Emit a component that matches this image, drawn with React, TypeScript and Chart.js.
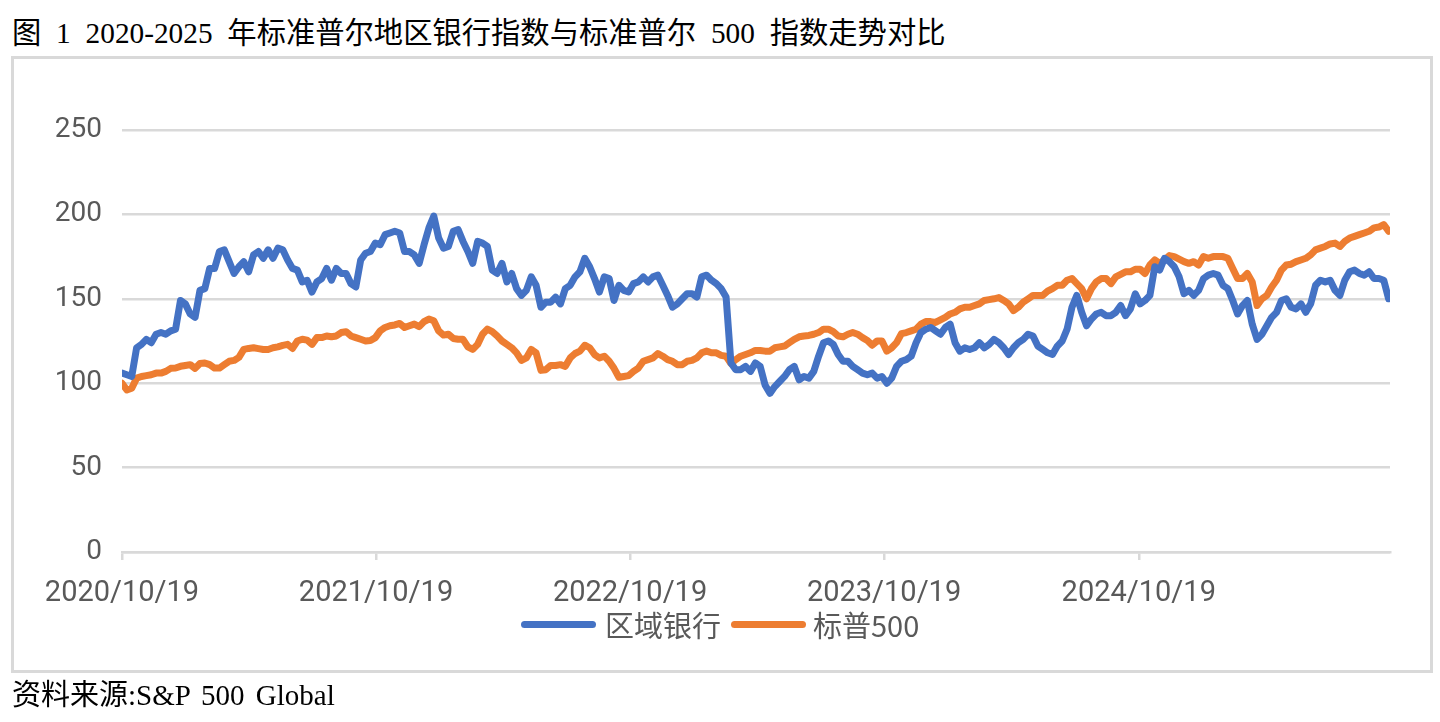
import React, { useEffect, useRef } from 'react';
import { Chart, registerables } from 'chart.js';

Chart.register(...registerables);

const titleText = '图 1 2020-2025 年标准普尔地区银行指数与标准普尔 500 指数走势对比';
const sourceText = '资料来源:S&P 500 Global';
const seriesNames = ['区域银行', '标普500'];
const seriesColors = ['#4472C4', '#ED7D31'];

// x positions are days since 2020/10/19 (weekly observations)
const xTickDays = [0, 365, 730, 1095, 1461];
const xTickLabels = ['2020/10/19', '2021/10/19', '2022/10/19', '2023/10/19', '2024/10/19'];
const yMin = 0;
const yMax = 250;
const yStep = 50;
const xMaxDay = 1822;
const stepDays = 7;

const regionalBank = [
  106, 105, 104, 121, 123, 126, 124, 129, 130, 129,
  131, 132, 149, 147, 141, 139, 155, 156, 168, 168,
  178, 179, 172, 165, 169, 172, 166, 176, 178, 174,
  179, 174, 180, 179, 173, 168, 167, 160, 161, 154,
  160, 162, 168, 161, 168, 165, 165, 159, 157, 173,
  177, 178, 183, 182, 188, 189, 190, 189, 178, 178,
  176, 171, 182, 192, 199, 186, 180, 181, 190, 191,
  184, 178, 171, 184, 183, 181, 167, 165, 171, 160,
  165, 156, 152, 155, 163, 158, 145, 148, 148, 151,
  147, 156, 158, 163, 166, 174, 169, 162, 154, 163,
  162, 149, 158, 155, 154, 159, 160, 163, 160, 163,
  164, 158, 152, 145, 147, 150, 153, 153, 151, 163,
  164, 161, 159, 156, 151, 112, 108, 108, 110, 107,
  112, 110, 99, 94, 98, 101, 104, 108, 110, 102,
  104, 103, 107, 116, 124, 125, 123, 117, 113, 113,
  110, 108, 106, 105, 106, 103, 104, 100, 103, 110,
  113, 114, 116, 124, 130, 132, 133, 131, 129, 133,
  135, 124, 119, 121, 120, 121, 124, 121, 123, 126,
  124, 121, 117, 121, 124, 126, 129, 128, 122, 120,
  118, 117, 122, 125, 132, 145, 152, 142, 134, 138,
  141, 142, 140, 140, 142, 146, 140, 144, 153, 147,
  149, 152, 169, 167, 174, 172, 169, 163, 153, 155,
  152, 155, 162, 164, 165, 164, 158, 156, 149, 141,
  146, 149, 135, 126, 129, 134, 139, 142, 149, 150,
  145, 144, 147, 142, 147, 158, 161, 160, 161, 155,
  152, 161, 166, 167, 165, 164, 166, 162, 162, 161, 150,
];

const sp500 = [
  100, 96, 97, 103, 104, 104.5, 105, 106, 106, 107,
  108.8, 109, 110, 110.5, 111, 108.8, 111.7, 112, 111, 109,
  109, 111, 113, 113.5, 115.3, 120, 120.6, 121, 120.5, 120,
  120, 121, 121.5, 122.4, 123, 120.6, 125, 126, 125.5, 123,
  127, 127, 128, 127.5, 128, 130, 130.5, 128, 127, 126,
  125, 125.3, 127, 131, 133, 134, 134.5, 135.4, 133, 134,
  135, 133.5, 136.5, 138, 137, 131, 128.5, 129, 126.5, 126,
  126, 121.5, 120, 123, 129, 132, 130.5, 128, 125, 123,
  121, 118, 113.5, 115, 120, 118, 107.6, 108, 110.5, 110.5,
  111, 110, 115, 117.6, 119, 122.5, 121, 117, 115, 116,
  113, 108.8, 103.5, 104, 104.5, 107, 109, 113, 114, 115,
  117.6, 116, 114, 113, 111, 111, 113, 113.5, 115, 118,
  119, 118, 118, 116.5, 116, 111.7, 114, 116, 117, 118,
  119.4, 119.4, 119, 119, 121, 121.5, 122, 124, 126, 127.5,
  128, 128.3, 129, 130, 132, 132, 130.5, 128, 127.5, 129,
  130, 129, 127, 125.3, 122.5, 125, 125, 119, 121, 124,
  129.4, 130, 131, 132, 135, 136.5, 136.5, 136, 137.5, 139,
  141, 142, 144, 145, 145, 146, 147, 149, 149.5, 150,
  150.7, 149, 147, 143, 145, 148, 150, 152, 152, 152,
  154.5, 156, 158, 158, 161, 162, 159, 156, 150, 156,
  160, 162, 162, 159, 163, 164.5, 166, 166, 167.5, 167.5,
  165, 170, 173, 171, 173, 175.6, 175, 173.5, 172, 171,
  172, 170, 175, 174, 175, 175, 175, 174, 168, 162,
  162, 165, 160, 146, 150, 152, 157, 161, 167, 170,
  170.5, 172, 173, 174, 176, 179, 180, 181, 182.5, 183,
  181, 184, 186, 187, 188, 189, 190, 192, 192.5, 194, 190,
];

const tickFont = '"Roboto", "Noto Sans CJK SC", sans-serif';
const cjkFont = '"Noto Sans CJK SC", sans-serif';
const serifFont = '"Liberation Serif", "DejaVu Serif", "Noto Sans CJK SC", serif';
const gridColor = '#d9d9d9';
const textGrey = '#595959';

function toPoints(values: number[]) {
  return values.map((v, i) => ({ x: i * stepDays, y: v }));
}

export default function App() {
  const canvasRef = useRef<HTMLCanvasElement | null>(null);

  useEffect(() => {
    if (!canvasRef.current) return;
    const chart = new Chart(canvasRef.current, {
      type: 'line',
      data: {
        datasets: [
          {
            label: seriesNames[0],
            data: toPoints(regionalBank),
            borderColor: seriesColors[0],
            backgroundColor: seriesColors[0],
            borderWidth: 7,
            pointRadius: 0,
            tension: 0,
            borderCapStyle: 'round',
            borderJoinStyle: 'round',
          },
          {
            label: seriesNames[1],
            data: toPoints(sp500),
            borderColor: seriesColors[1],
            backgroundColor: seriesColors[1],
            borderWidth: 7,
            pointRadius: 0,
            tension: 0,
            borderCapStyle: 'round',
            borderJoinStyle: 'round',
          },
        ],
      },
      options: {
        animation: false,
        responsive: false,
        maintainAspectRatio: false,
        layout: { padding: { left: 0, right: 50, top: 130, bottom: 0 } },
        plugins: {
          legend: { display: false },
          tooltip: { enabled: false },
        },
        scales: {
          x: {
            type: 'linear',
            min: 0,
            max: xMaxDay,
            afterFit: (scale: any) => {
              scale.height = 170;
            },
            afterBuildTicks: (scale: any) => {
              scale.ticks = xTickDays.map((d) => ({ value: d }));
            },
            grid: {
              drawOnChartArea: false,
              drawTicks: true,
              tickLength: 8,
              tickColor: gridColor,
              lineWidth: 2.5,
            },
            border: { display: true, color: gridColor, width: 2.5 },
            ticks: {
              autoSkip: false,
              maxRotation: 0,
              minRotation: 0,
              padding: 16,
              color: textGrey,
              font: { family: tickFont, size: 29 },
              callback: (_v: any, idx: number) => xTickLabels[idx],
            },
          },
          y: {
            min: yMin,
            max: yMax,
            afterFit: (scale: any) => {
              scale.width = 122;
            },
            grid: {
              color: gridColor,
              lineWidth: 2.5,
              drawTicks: false,
            },
            border: { display: false },
            ticks: {
              stepSize: yStep,
              padding: 20,
              color: textGrey,
              font: { family: tickFont, size: 28 },
            },
          },
        },
      },
    });
    return () => chart.destroy();
  }, []);

  return (
    <div
      style={{
        position: 'absolute',
        left: 0,
        top: 0,
        width: 1440,
        height: 722,
        background: '#ffffff',
        overflow: 'hidden',
      }}
    >
      <div
        style={{
          position: 'absolute',
          left: 12,
          top: 14,
          fontFamily: serifFont,
          fontSize: 29.3,
          lineHeight: '38px',
          wordSpacing: '7.5px',
          color: '#000',
          whiteSpace: 'nowrap',
        }}
      >
        {titleText}
      </div>
      <div
        style={{
          position: 'absolute',
          left: 11,
          top: 56,
          width: 1422,
          height: 617,
          boxSizing: 'border-box',
          border: `3px solid ${gridColor}`,
        }}
      />
      <canvas
        ref={canvasRef}
        width={1440}
        height={722}
        style={{ position: 'absolute', left: 0, top: 0, width: 1440, height: 722 }}
      />
      <div
        style={{
          position: 'absolute',
          left: 521,
          top: 604,
          height: 40,
          display: 'flex',
          alignItems: 'center',
          fontFamily: cjkFont,
          fontSize: 29,
          color: textGrey,
          whiteSpace: 'nowrap',
        }}
      >
        <div style={{ width: 75, height: 7, borderRadius: 4, background: seriesColors[0], marginRight: 9 }} />
        <span style={{ marginRight: 10 }}>{seriesNames[0]}</span>
        <div style={{ width: 75, height: 7, borderRadius: 4, background: seriesColors[1], marginRight: 7 }} />
        <span>{seriesNames[1]}</span>
      </div>
      <div
        style={{
          position: 'absolute',
          left: 12,
          top: 676,
          fontFamily: serifFont,
          fontSize: 29,
          lineHeight: '38px',
          wordSpacing: '4px',
          color: '#000',
          whiteSpace: 'nowrap',
        }}
      >
        {sourceText}
      </div>
    </div>
  );
}
